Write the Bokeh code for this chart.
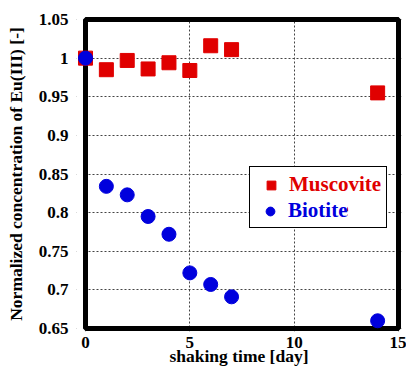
from bokeh.plotting import figure
from bokeh.models import Legend, LegendItem, Range1d, FixedTicker, BoxAnnotation
from bokeh.embed import file_html
from bokeh.resources import INLINE

days = [0, 1, 2, 3, 4, 5, 6, 7, 14]
muscovite = [1.000, 0.985, 0.997, 0.986, 0.994, 0.984, 1.016, 1.011, 0.955]
biotite = [1.000, 0.834, 0.823, 0.795, 0.772, 0.722, 0.707, 0.691, 0.660]
x_ticks = [0, 5, 10, 15]
y_ticks = [0.65, 0.7, 0.75, 0.8, 0.85, 0.9, 0.95, 1.0, 1.05]
y_tick_labels = {0.65: "0.65", 0.7: "0.7", 0.75: "0.75", 0.8: "0.8", 0.85: "0.85",
                 0.9: "0.9", 0.95: "0.95", 1.0: "1", 1.05: "1.05"}
X_MIN, X_MAX = 0, 15
Y_MIN, Y_MAX = 0.65, 1.05

RED = "#e00000"
BLUE = "#0000dd"
FONT = "Liberation Serif"

# layout: the drawn box (0..15, 0.65..1.05) is 313 x 309 px
BOX_W, BOX_H = 313, 309
PAD_L, PAD_R, PAD_T, PAD_B = 9, 3, 3, 3
xs = (X_MAX - X_MIN) / BOX_W
ys = (Y_MAX - Y_MIN) / BOX_H
x_range = Range1d(X_MIN - PAD_L * xs, X_MAX + PAD_R * xs)
y_range = Range1d(Y_MIN - PAD_B * ys, Y_MAX + PAD_T * ys)

border_left = 85 - PAD_L
border_top = 19 - PAD_T
frame_w = BOX_W + PAD_L + PAD_R
frame_h = BOX_H + PAD_T + PAD_B

p = figure(width=406, height=369, output_backend="svg", toolbar_location=None,
           x_range=x_range, y_range=y_range,
           min_border_left=border_left, min_border_right=406 - border_left - frame_w,
           min_border_top=border_top, min_border_bottom=369 - border_top - frame_h)

p.outline_line_color = None
p.background_fill_color = "white"
p.border_fill_color = "white"

for ax in (p.xaxis[0], p.yaxis[0]):
    ax.axis_line_color = None
    ax.major_tick_line_color = None
    ax.minor_tick_line_color = None
    ax.major_label_text_font = FONT
    ax.major_label_text_font_style = "bold"
    ax.major_label_text_font_size = "17px"
    ax.major_label_text_color = "black"
    ax.axis_label_text_font = FONT
    ax.axis_label_text_font_style = "bold"
    ax.axis_label_text_color = "black"

p.xaxis.axis_label_text_font_size = "17.5px"
p.yaxis.axis_label_text_font_size = "17.5px"
p.xaxis.ticker = FixedTicker(ticks=x_ticks)
p.yaxis.ticker = FixedTicker(ticks=y_ticks)
p.yaxis.major_label_overrides = y_tick_labels
p.xaxis.axis_label = "shaking time [day]"
p.yaxis.axis_label = "Normalized concentration of Eu(III) [-]"
p.xaxis.major_label_standoff = -1
p.xaxis.axis_label_standoff = -5
p.yaxis.major_label_standoff = 2
p.yaxis.axis_label_standoff = 10

for g in (p.xgrid[0], p.ygrid[0]):
    g.grid_line_color = "#444444"
    g.grid_line_dash = "2 2"
    g.grid_line_width = 1

# white cover left of x=0 (hides grid overflow), then the thick frame box
p.add_layout(BoxAnnotation(right=X_MIN, fill_color="white", fill_alpha=1,
                           line_color=None, level="underlay"))
p.add_layout(BoxAnnotation(left=X_MIN, right=X_MAX, bottom=Y_MIN, top=Y_MAX,
                           fill_alpha=0, line_color="black", line_alpha=1, line_width=5,
                           level="underlay"))

r_m = p.scatter(days, muscovite, marker="square", size=14, fill_color=RED, line_color=RED)
r_b = p.scatter(days, biotite, marker="circle", size=14, fill_color=BLUE, line_color=BLUE)

leg_kw = dict(label_text_font=FONT, label_text_font_style="bold",
              label_text_font_size="21px", spacing=0, glyph_width=32, glyph_height=22,
              label_height=22, label_standoff=2, margin=0)

legA = Legend(items=[LegendItem(label="Muscovite", renderers=[r_m]),
                     LegendItem(label="Biotite", renderers=[r_b])],
              location=(173, 102 + PAD_B - 2), label_text_color=RED,
              border_line_color="black", border_line_width=1, border_line_alpha=1,
              background_fill_color="white", background_fill_alpha=1, padding=5, **leg_kw)
p.add_layout(legA)

legB = Legend(items=[LegendItem(label="Biotite", renderers=[r_b])],
              location=(178, 107 + PAD_B - 2), label_text_color=BLUE,
              border_line_color=None, background_fill_color="white",
              background_fill_alpha=1, padding=0, **leg_kw)
p.add_layout(legB)

out = file_html(p, INLINE)
open("out.html", "w").write(out)
